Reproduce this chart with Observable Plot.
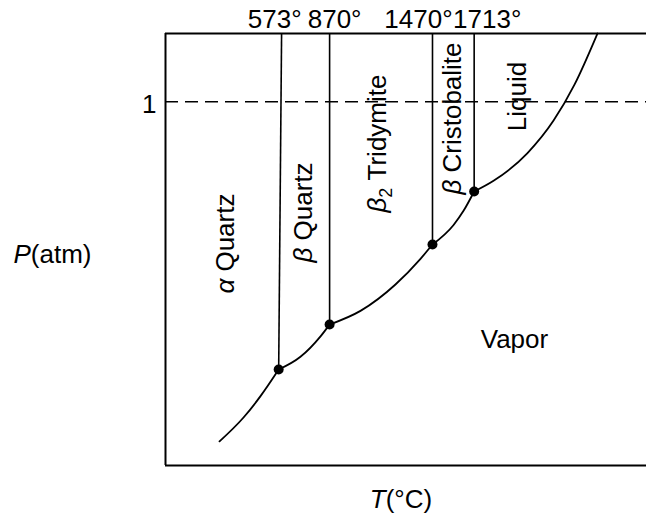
<!DOCTYPE html>
<html><head><meta charset="utf-8">
<script src="https://cdn.jsdelivr.net/npm/d3@7"></script>
<script src="https://cdn.jsdelivr.net/npm/@observablehq/plot@0.6"></script>
<style>
html,body{margin:0;padding:0;background:#fff;}
#chart{width:646px;height:514px;}
</style></head><body><div id="chart"></div>
<script>
// Axis extents: temperature in °C, pressure as log10(P / atm)
const xDomain = [-87, 2718];
const yDomain = [-16, 3];

// Phase-transition temperatures and the pressure at each triple point on the vapor curve
const transitionT = [573, 870, 1470, 1713];
const transitionTopT = [590, 870, 1470, 1713];
const transitionLabels = ["573°", "870°", "1470°", "1713°"];
const triplePointLogP = [-11.78, -9.80, -6.28, -3.95];

// Vapor-pressure curve, one segment per condensed phase
const curveSegment = ["α", "α", "α", "α",
  "βQ", "βQ", "βQ", "βQ",
  "βT", "βT", "βT", "βT", "βT",
  "βC", "βC", "βC", "βC",
  "L", "L", "L", "L", "L", "L"];
const curveT = [228, 368, 467, 573,
  573, 700, 817, 870,
  870, 1050, 1254, 1400, 1470,
  1470, 1593, 1651, 1713,
  1713, 1826, 2024, 2176, 2298, 2432];
const curveLogP = [-14.94, -13.89, -12.95, -11.78,
  -11.78, -11.22, -10.32, -9.80,
  -9.80, -9.20, -8.04, -6.91, -6.28,
  -6.28, -5.42, -4.80, -3.95,
  -3.95, -3.48, -2.26, -0.83, 0.75, 3.00];

// Phase-field labels
const phaseNames = ["α Quartz", "β Quartz", "β2 Tridymite", "β Cristobalite", "Liquid"];
const phaseT = [263, 718, 1149, 1587, 1966];
const phaseLogP = [-6.24, -4.87, -1.84, -0.74, 0.23];
const vaporName = ["Vapor"];
const vaporT = [1948];
const vaporLogP = [-10.46];

// Pressure tick
const pressureTicks = [0];
const pressureTickLabels = ["1"];
const xTitle = "T(°C)";
const yTitle = "P(atm)";

// ---- styling ----
const FS = 26;
const labelNudge = [-4, 5, -14, 13];

const curve = curveT.map((t, i) => ({T: t, logP: curveLogP[i], seg: curveSegment[i]}));
const trans = transitionT.map((t, i) => ({T: t, Ttop: transitionTopT[i], logP: triplePointLogP[i], label: transitionLabels[i]}));
const phases = phaseNames.map((n, i) => ({name: n, T: phaseT[i], logP: phaseLogP[i]}));
const vapor = vaporName.map((n, i) => ({name: n, T: vaporT[i], logP: vaporLogP[i]}));

const plot = Plot.plot({
  width: 646, height: 514,
  marginLeft: 165, marginRight: 0, marginTop: 33, marginBottom: 49,
  x: {domain: xDomain, axis: null},
  y: {domain: yDomain, axis: null},
  style: {fontFamily: "'Liberation Sans', Arial, Helvetica, sans-serif", background: "white", color: "black"},
  marks: [
    // frame (left, top, bottom)
    Plot.ruleY([yDomain[0], yDomain[1]], {stroke: "black", strokeWidth: 2}),
    Plot.ruleX([xDomain[0]], {stroke: "black", strokeWidth: 2}),
    // 1 atm dashed line
    Plot.ruleY(pressureTicks, {stroke: "black", strokeWidth: 1.6, strokeDasharray: "13,7"}),
    // phase boundaries
    Plot.link(trans, {x1: "Ttop", y1: yDomain[1], x2: "T", y2: "logP", stroke: "black", strokeWidth: 1.6}),
    // vapor curve
    Plot.line(curve, {x: "T", y: "logP", z: "seg", curve: "monotone-x", stroke: "black", strokeWidth: 1.8}),
    // triple points
    Plot.dot(trans, {x: "T", y: "logP", r: 5, fill: "black"}),
    // top temperature labels
    ...trans.map((d, i) => Plot.text([d], {x: "T", y: yDomain[1], text: "label", dx: labelNudge[i], dy: -6, lineAnchor: "bottom", fontSize: FS})),
    // phase labels
    Plot.text(phases, {x: "T", y: "logP", text: "name", rotate: -90, fontSize: FS, lineAnchor: "middle"}),
    Plot.text(vapor, {x: "T", y: "logP", text: "name", fontSize: FS, lineAnchor: "middle"}),
    // pressure tick label
    Plot.text(pressureTicks, {x: xDomain[0], y: d => d, text: (d, i) => pressureTickLabels[i], textAnchor: "end", dx: -9, dy: 3, lineAnchor: "middle", fontSize: FS}),
    // axis titles
    Plot.text([xTitle], {frameAnchor: "bottom", text: d => d, textAnchor: "middle", dx: -5, dy: 42, lineAnchor: "bottom", fontSize: FS}),
    Plot.text([yTitle], {frameAnchor: "left", text: d => d, textAnchor: "middle", dx: -113, dy: 13, lineAnchor: "bottom", fontSize: FS})
  ]
});
document.getElementById("chart").appendChild(plot);

// Italic symbols and subscripts as real text spans
const NS = "http://www.w3.org/2000/svg";
plot.querySelectorAll("text").forEach(el => {
  const s = el.textContent;
  let parts = null;
  let m = s.match(/^([αβ])(\d?)(.*)$/);
  if (m) {
    parts = [{t: m[1], italic: true}];
    if (m[2]) parts.push({t: m[2], sub: true});
    parts.push({t: m[3], after: !!m[2]});
  } else if ((m = s.match(/^([A-Z])(\(.*)$/))) {
    parts = [{t: m[1], italic: true}, {t: m[2]}];
  }
  if (!parts) return;
  el.textContent = "";
  parts.forEach(p => {
    const ts = document.createElementNS(NS, "tspan");
    ts.textContent = p.t;
    if (p.italic) ts.setAttribute("font-style", "italic");
    if (p.sub) { ts.setAttribute("font-size", 18); ts.setAttribute("dy", 6); }
    if (p.after) ts.setAttribute("dy", -6);
    el.appendChild(ts);
  });
});
</script></body></html>
